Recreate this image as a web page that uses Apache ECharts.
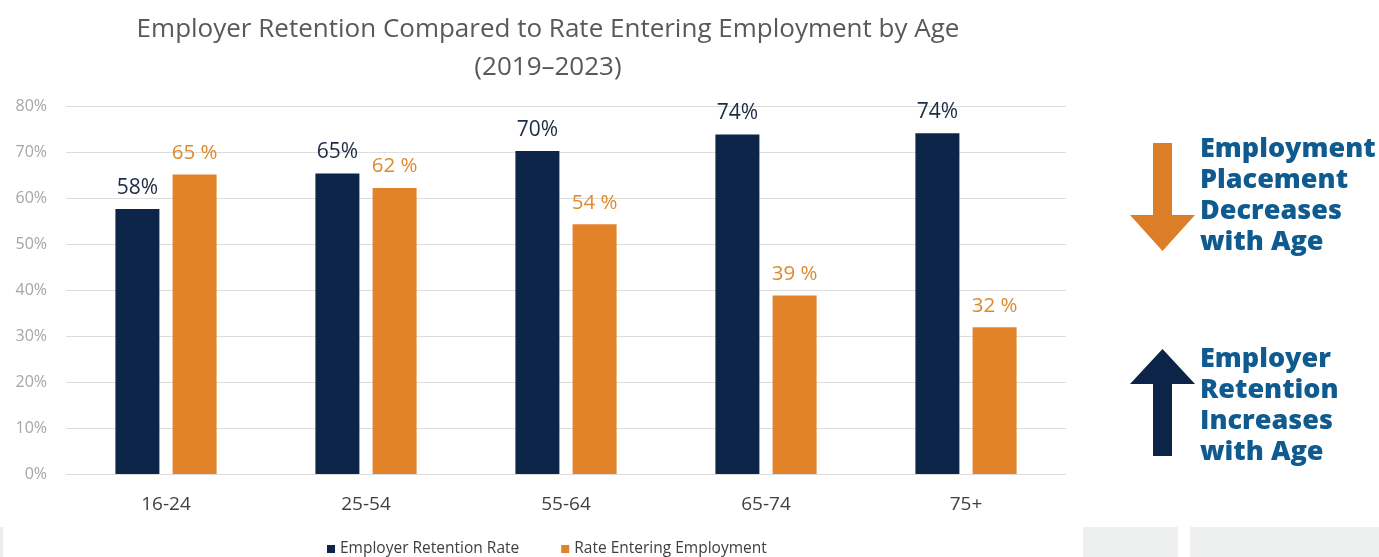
<!DOCTYPE html>
<html><head><meta charset="utf-8">
<script src="https://cdn.jsdelivr.net/npm/echarts@6/dist/echarts.min.js"></script>
<style>html,body{margin:0;padding:0;background:#fff}#c{width:1379px;height:557px}</style>
</head><body><div id="c"></div>
<script>
const categories = ['16-24', '25-54', '55-64', '65-74', '75+'];
const retention = [57.6, 65.3, 70.2, 73.8, 74.1];
const entering = [65.1, 62.2, 54.3, 38.8, 31.9];
const yTicks = [0, 10, 20, 30, 40, 50, 60, 70, 80];
const seriesNames = ['Employer Retention Rate', 'Rate Entering Employment'];
const titleLines = ['Employer Retention Compared to Rate Entering Employment by Age', '(2019\u20132023)'];
const sideNotes = [['Employment', 'Placement', 'Decreases', 'with Age'], ['Employer', 'Retention', 'Increases', 'with Age']];

const NAVY = '#0c2549', ORANGE = '#e2832a';
const chart = echarts.init(document.getElementById('c'));
const font = "'Open Sans', sans-serif";
const noteFont = "'Open Sans', sans-serif";

function noteText(lines, top) {
  return lines.map((t, i) => ({
    type: 'text', left: 1200, top: top + i * 31,
    style: { text: t, fill: '#0f5b8f', font: "800 27px " + noteFont }
  }));
}

chart.setOption({
  animation: false,
  title: {
    text: titleLines.join('\n'), left: 543, top: 6, textAlign: 'center',
    textStyle: { fontFamily: font, fontSize: 26, fontWeight: 'normal', color: '#595959', lineHeight: 38 }
  },
  legend: {
    data: seriesNames, bottom: -5, left: 322, itemWidth: 8, itemHeight: 8, itemGap: 42,
    icon: 'rect', textStyle: { fontFamily: font, fontSize: 15.5, color: '#404040' }
  },
  grid: { left: 66, right: 313, top: 106, bottom: 83, containLabel: false },
  xAxis: {
    type: 'category', data: categories,
    axisLine: { show: false }, axisTick: { show: false },
    axisLabel: { fontFamily: font, fontSize: 19, color: '#404040', margin: 21 }
  },
  yAxis: {
    type: 'value', min: 0, max: 80, interval: 10,
    axisLabel: { formatter: v => yTicks.includes(v) ? v + '%' : '', fontFamily: font, fontSize: 16, color: '#a6a6a6', margin: 19 },
    splitLine: { lineStyle: { color: '#dcdcdc', width: 1 } },
    axisLine: { show: false }, axisTick: { show: false }
  },
  series: [
    {
      name: seriesNames[0], type: 'bar', data: retention, barWidth: 44, barGap: '30%',
      itemStyle: { color: NAVY },
      label: { show: true, position: 'top', distance: 11, formatter: p => Math.round(p.value) + '%',
        fontFamily: font, fontSize: 21, color: '#1e2b45' }
    },
    {
      name: seriesNames[1], type: 'bar', data: entering, barWidth: 44,
      itemStyle: { color: ORANGE },
      label: { show: true, position: 'top', distance: 11, formatter: p => Math.round(p.value) + ' %',
        fontFamily: font, fontSize: 20.5, color: '#e08a2c' }
    }
  ],
  graphic: [
    { type: 'rect', shape: { x: 0, y: 527, width: 3, height: 30 }, style: { fill: '#eceeee' } },
    { type: 'rect', shape: { x: 1083, y: 527, width: 95, height: 30 }, style: { fill: '#eef0f0' } },
    { type: 'rect', shape: { x: 1190, y: 527, width: 189, height: 30 }, style: { fill: '#eef0f0' } },
    { type: 'polygon', shape: { points: [[1153,143],[1172,143],[1172,215],[1195,215],[1162.5,251],[1130,215],[1153,215]] }, style: { fill: '#dc7e27' } },
    { type: 'polygon', shape: { points: [[1162.5,349],[1195,384],[1172,384],[1172,456],[1153,456],[1153,384],[1130,384]] }, style: { fill: '#0b2447' } },
    ...noteText(sideNotes[0], 136),
    ...noteText(sideNotes[1], 346)
  ]
});
</script></body></html>
